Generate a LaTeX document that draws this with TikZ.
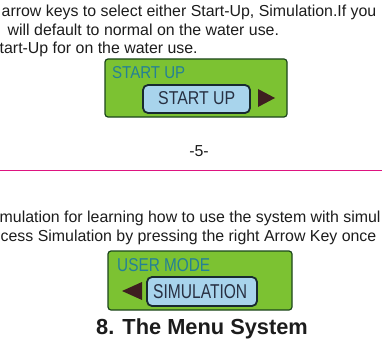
\documentclass[tikz,border=0pt]{standalone}
\usepackage{fontspec}
\setmainfont{Liberation Sans}
\usepackage{graphicx}
\definecolor{lcdgreen}{RGB}{124,194,50}
\definecolor{lcdedge}{RGB}{28,70,28}
\definecolor{lcdteal}{RGB}{36,128,150}
\definecolor{keyfill}{RGB}{168,212,236}
\definecolor{keyedge}{RGB}{24,42,48}
\definecolor{keytext}{RGB}{40,48,66}
\definecolor{tricol}{RGB}{62,30,32}
\definecolor{bodytext}{RGB}{28,28,28}
\definecolor{rulemag}{RGB}{222,20,128}
\tikzset{
  body/.style={anchor=base west, inner sep=0pt, text=bodytext, font=\fontsize{15.9}{18}\selectfont},
  keybox/.style={draw=keyedge, line width=1.8pt, fill=keyfill, rounded corners=5pt, inner sep=0pt},
  lcdbox/.style={draw=lcdedge, line width=1.2pt, fill=lcdgreen, rounded corners=3pt},
  lbl/.style={anchor=south west, inner sep=0pt, text=lcdteal},
  keylbl/.style={anchor=south west, inner sep=0pt, text=keytext},
}
\begin{document}
\begin{tikzpicture}[x=1pt,y=-1pt]
\useasboundingbox (0,0) rectangle (382,342);
\clip (0,0) rectangle (382,342);
% top text
\node[body] (l1) at (1.5,17) {arrow keys to select either Start-Up, Simulation.If you};
\node[body] (l2) at (7.5,36) {will default to normal on the water use.};
\node[body] (l3) at (-0.5,54) {tart-Up for on the water use.};
% LCD 1
\path[lcdbox] (105,59) rectangle (287,117);
\path[keybox] (143,85) rectangle (250,113);
\node[lbl] (t1) at (112,79) {\resizebox{73pt}{12pt}{START UP}};
\node[keylbl] (k1) at (158,105) {\resizebox{77pt}{13pt}{START UP}};
\fill[tricol] (258,89) -- (275,98) -- (258,107) -- cycle;
% page number and rule
\node[anchor=base, inner sep=0pt, text=bodytext, font=\fontsize{15.9}{18}\selectfont] (pg) at (199,156) {-5-};
\draw[rulemag, line width=1.6pt] (0,170.5) -- (382,170.5);
% lower text
\node[body] (l4) at (-0.5,222) {mulation for learning how to use the system with simul};
\node[body] (l5) at (0.5,241) {cess Simulation by pressing the right Arrow Key once};
% LCD 2
\path[lcdbox] (108,251) rectangle (292,310);
\path[keybox] (147,277) rectangle (257,306);
\node[lbl] (t2) at (117,272) {\resizebox{93pt}{13pt}{USER MODE}};
\node[keylbl] (k2) at (153,299) {\resizebox{94pt}{14pt}{SIMULATION}};
\fill[tricol] (142,282) -- (122,291) -- (142,300) -- cycle;
% title
\node[anchor=base, inner sep=0pt, text=bodytext, font=\bfseries\fontsize{21.8}{24}\selectfont] (title) at (202,334) {8. The Menu System};
\end{tikzpicture}
\end{document}
